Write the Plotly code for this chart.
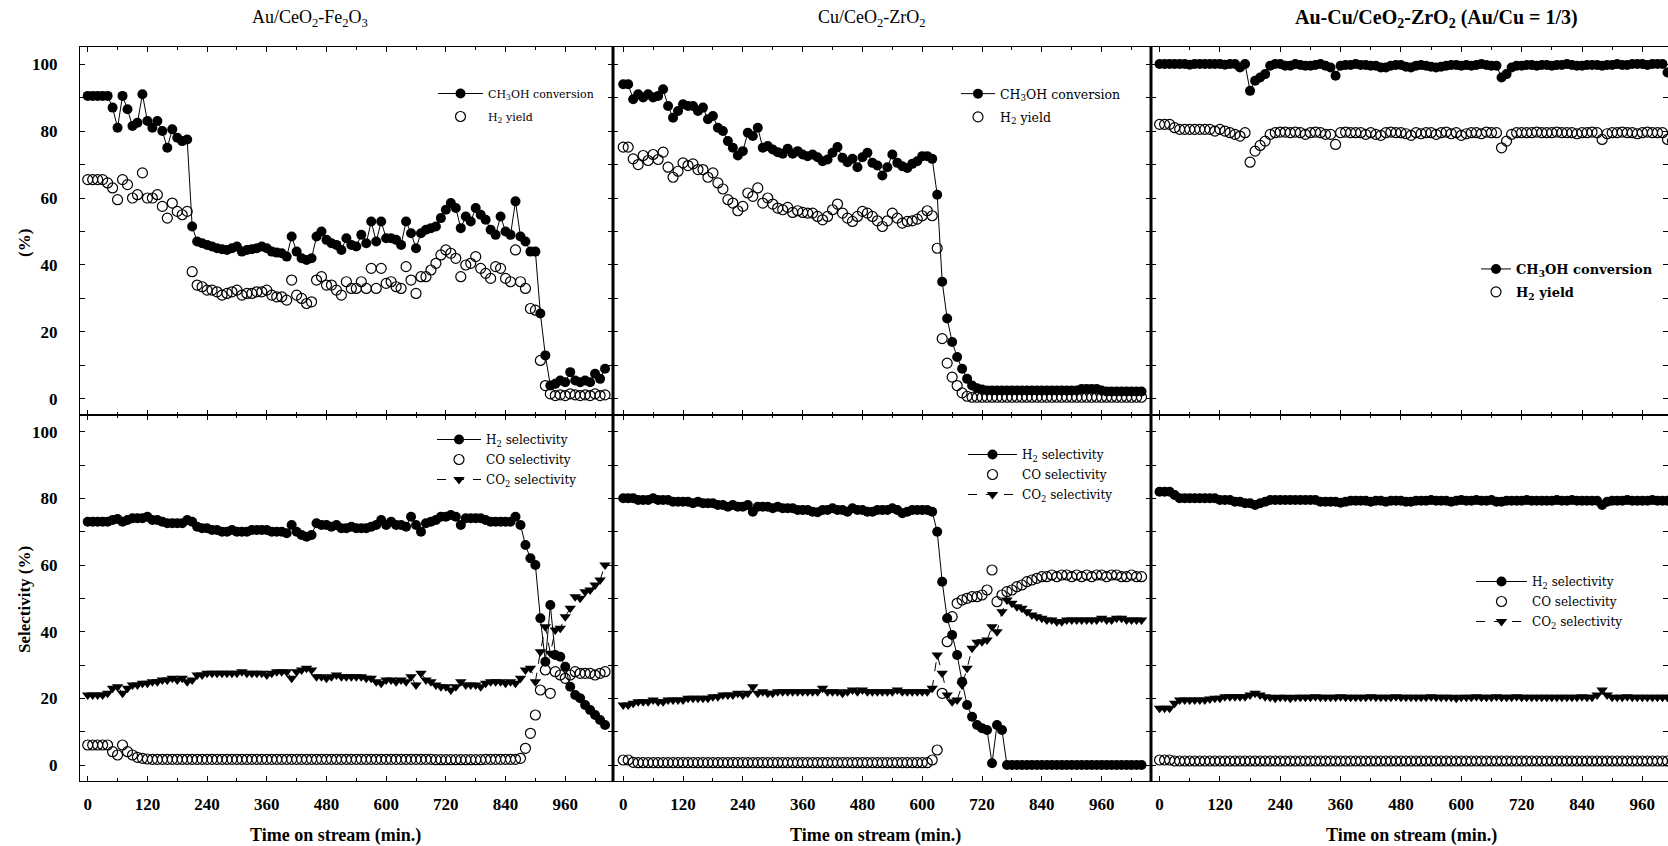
import plotly.graph_objects as go

W, H = 1668, 846

# ---------------- data ----------------
# sampling times (min)
t_p1 = list(range(0, 1041, 10))
t_p2 = list(range(0, 1041, 10))
t_p3 = list(range(0, 1021, 10))

# Panel 1: Au/CeO2-Fe2O3
p1_conv = [90.5, 90.5, 90.5, 90.5, 90.5, 87, 81, 90.5, 86.5, 81.5,
           82.5, 91, 83, 81, 83, 80, 75, 80.5, 78, 77,
           77.5, 51.5, 47, 46.5, 46, 45.5, 45, 44.7, 44.5, 45,
           45.5, 44, 44.5, 44.7, 45, 45.5, 45, 44, 43.7, 43.5,
           42.5, 48.5, 44, 42, 41.5, 42, 48.5, 50, 47.5, 46.5,
           46, 44.5, 48, 46, 45.5, 49, 46.5, 53, 47, 53,
           48, 48, 47.5, 46, 53, 49.5, 45, 49.5, 50.5, 51,
           51.5, 54, 56.5, 58.5, 57, 51, 54.5, 53, 57, 55,
           53.5, 50.5, 49, 54.5, 50, 49, 59, 48.5, 47, 44,
           44, 25.5, 13, 4, 4.5, 5.5, 5, 8, 5.5, 5,
           5.5, 5, 7.5, 6, 9]
p1_yield = [65.5, 65.5, 65.5, 65.5, 64.5, 63, 59.5, 65.5, 64, 60,
            61, 67.5, 60, 60, 61, 57.5, 54, 58.5, 56, 55,
            56, 38, 34, 33.5, 32.5, 32.5, 32, 31, 31.5, 32,
            32.5, 31, 31.5, 31.5, 32, 32, 32.5, 31, 30.5, 30.5,
            29.5, 35.5, 31, 30, 28.5, 29, 35.5, 36.5, 34, 34,
            32.5, 31, 35, 33, 33, 35, 33, 39, 33, 39,
            34.5, 35, 33.5, 33, 39.5, 35.5, 31.5, 36.5, 36.5, 38.5,
            40.5, 43, 44.5, 43.5, 42, 36.5, 40, 40.5, 42.5, 39,
            37.5, 36, 39.5, 39, 36, 35, 44.5, 35, 33, 27,
            26.5, 11.5, 4, 1.5, 1, 1.2, 1, 1.5, 1.2, 1,
            1.2, 1, 1.5, 1, 1.2]
p1_h2sel = [73, 73, 73, 73, 73, 73.5, 73.8, 73, 73.5, 74,
            74, 74, 74.5, 73.5, 73.5, 73, 72.5, 72.5, 72.5, 72.5,
            73.5, 73, 71.5, 71, 71, 70.5, 70.5, 70, 70, 70.5,
            70, 70, 70, 70.5, 70.5, 70.5, 70.5, 70, 70, 70,
            69.5, 72, 70, 69, 68.5, 69, 72.5, 72, 72, 71.5,
            72, 71, 71, 71.5, 71, 71, 71, 71.5, 72, 73.5,
            72, 73, 72, 72, 71.5, 74.5, 72, 70, 72.5, 73,
            73.5, 74.5, 74.5, 75, 74.5, 72, 74, 74, 74, 74,
            73.5, 73, 73, 73, 73, 73, 74.5, 72, 66, 62,
            60, 44, 31, 48, 33, 32.5, 29.5, 23.5, 21, 20,
            18, 16.5, 15, 13.5, 12]
p1_cosel = [6, 6, 6, 6, 6, 4, 3, 6, 4, 3,
            2.3, 2, 1.8, 1.7, 1.7, 1.7, 1.7, 1.7, 1.7, 1.7,
            1.7, 1.7, 1.7, 1.7, 1.7, 1.7, 1.7, 1.7, 1.7, 1.7,
            1.7, 1.7, 1.7, 1.7, 1.7, 1.7, 1.7, 1.7, 1.7, 1.7,
            1.7, 1.7, 1.7, 1.7, 1.7, 1.7, 1.7, 1.7, 1.7, 1.7,
            1.7, 1.7, 1.7, 1.7, 1.7, 1.7, 1.7, 1.7, 1.7, 1.7,
            1.7, 1.7, 1.7, 1.7, 1.7, 1.7, 1.7, 1.7, 1.7, 1.7,
            1.6, 1.6, 1.6, 1.6, 1.6, 1.6, 1.6, 1.6, 1.6, 1.6,
            1.7, 1.7, 1.7, 1.7, 1.7, 1.7, 1.7, 2, 5, 9.5,
            15, 22.5, 28.5, 21.5, 28, 27, 26, 27, 28, 27.5,
            27.5, 27.5, 27, 27.5, 28]
p1_co2sel = [21, 21, 21, 21, 21.5, 23, 23.5, 21.5, 23, 24,
             24, 24.5, 24.5, 25, 25, 25.5, 25.5, 26, 25.5, 26,
             25, 25.5, 27, 27, 27.5, 27.5, 27.5, 27.5, 27.5, 27.5,
             27.5, 28, 27.5, 27.5, 27.5, 27.5, 27, 27.5, 28, 28,
             28, 26, 28, 28.5, 29, 28.5, 26.5, 26.5, 26, 26.5,
             27, 26.5, 26.5, 26.5, 26.5, 26.5, 26, 26, 25, 24.5,
             25.5, 25.5, 25, 25.5, 25, 26.5, 24, 27.5, 25.5, 25,
             24, 23.5, 23.5, 22.5, 23.5, 25, 24, 24, 24, 23.5,
             24.5, 25, 25, 25, 24.5, 25, 24.5, 26, 28.5, 29,
             25, 34, 41.5, 33.5, 40.5, 41, 44.5, 47, 50.5, 50,
             52, 52.5, 54, 55.5, 60]

# Panel 2: Cu/CeO2-ZrO2
p2_conv = [94, 94, 89.5, 91, 90, 91, 90, 90.5, 92.5, 87.5,
           84, 86, 88, 87.5, 87.5, 86, 87, 83.5, 84.5, 81,
           80, 77, 75, 72.7, 74, 79.5, 78.5, 81, 75, 75.5,
           74.5, 73.7, 73.2, 74.7, 73.2, 74, 73, 72.5, 73, 72.2,
           71, 71.5, 73.5, 75.2, 72, 70.7, 71.7, 69.2, 72.2, 73.5,
           70.5, 69.7, 66.7, 69.2, 73, 70.5, 69.5, 69, 70.2, 71,
           72.5, 72.5, 71.7, 61, 35, 24, 17, 12.5, 9, 6,
           4, 3.2, 2.8, 2.5, 2.5, 2.5, 2.5, 2.5, 2.5, 2.5,
           2.5, 2.5, 2.5, 2.5, 2.5, 2.5, 2.5, 2.5, 2.5, 2.5,
           2.5, 2.5, 3, 3, 3, 3, 2.5, 2.2, 2.2, 2.2,
           2.2, 2.2, 2.2, 2.2, 2.2]
p2_yield = [75.2, 75.2, 71.7, 70, 72.7, 71.2, 73, 71.5, 73.7, 69.2,
            66.2, 68, 70.5, 69.7, 70.2, 68.5, 68.5, 66.2, 67.5, 64.5,
            62.7, 59.5, 58.5, 56.2, 57.5, 61.5, 60.5, 63, 58.5, 60,
            58.2, 57, 56.5, 57.2, 55.7, 56.2, 55.7, 55.5, 55.5, 54.5,
            53.5, 54.5, 56.5, 58.2, 55.5, 54, 53, 54.5, 56, 55.5,
            54.5, 53.2, 51.5, 53.2, 55.5, 54, 52.5, 53, 53.2, 53.7,
            54.7, 56.2, 54.7, 45, 18, 10.7, 6.5, 4, 1.8, 0.8,
            0.5, 0.5, 0.5, 0.5, 0.5, 0.5, 0.5, 0.5, 0.5, 0.5,
            0.5, 0.5, 0.5, 0.5, 0.5, 0.5, 0.5, 0.5, 0.5, 0.5,
            0.5, 0.5, 0.5, 0.5, 0.5, 0.5, 0.5, 0.5, 0.5, 0.5,
            0.5, 0.5, 0.5, 0.5, 0.5]
p2_h2sel = [80, 80, 80, 79.5, 79.5, 79.5, 80, 79.5, 79.5, 79.5,
            79, 79, 79, 79, 78.5, 79, 78.5, 78.5, 78.5, 78,
            78, 77.5, 78, 77.5, 77.5, 78, 76, 77.5, 77.5, 77.5,
            77, 77.5, 77, 77, 77, 76.5, 76.5, 76.5, 76, 75.8,
            76.5, 76.5, 77, 76.5, 76.5, 76, 77, 76.5, 76.5, 76,
            76, 76.5, 76.5, 76.5, 77, 76.5, 75.5, 76, 76.5, 76.5,
            76.5, 76.5, 76, 70, 55, 44, 39, 33, 25, 18,
            14.5, 12, 11, 10.5, 0.5, 12, 10.5, 0, 0, 0,
            0, 0, 0, 0, 0, 0, 0, 0, 0, 0,
            0, 0, 0, 0, 0, 0, 0, 0, 0, 0,
            0, 0, 0, 0, 0]
p2_cosel = [1.5, 1.5, 0.8, 0.7, 0.7, 0.7, 0.7, 0.7, 0.7, 0.7,
            0.7, 0.7, 0.7, 0.7, 0.7, 0.7, 0.7, 0.7, 0.7, 0.7,
            0.7, 0.7, 0.7, 0.7, 0.7, 0.7, 0.7, 0.7, 0.7, 0.7,
            0.7, 0.7, 0.7, 0.7, 0.7, 0.7, 0.7, 0.7, 0.7, 0.7,
            0.7, 0.7, 0.7, 0.7, 0.7, 0.7, 0.7, 0.7, 0.7, 0.7,
            0.7, 0.7, 0.7, 0.7, 0.7, 0.7, 0.7, 0.7, 0.7, 0.7,
            0.7, 0.7, 1.5, 4.5, 21.5, 37, 44.5, 48.5, 49.5, 50,
            50.5, 50.5, 51, 52.5, 58.5, 49, 51, 52, 52.5, 53.5,
            54, 55, 55.5, 56, 56.5, 56.5, 57, 56.5, 57, 57,
            56.5, 57, 56.5, 57, 56.5, 57, 57, 56.5, 57, 57,
            56.5, 56.5, 57, 56.5, 56.5]
p2_co2sel = [18, 18, 18.5, 19, 19, 19, 19.5, 19, 19, 19.5,
             19.5, 19.5, 19.5, 20, 20, 20, 20, 20, 20.5, 20.5,
             21, 21, 21, 21.5, 21, 21.5, 23.5, 21.5, 22, 21.5,
             21.5, 22, 22, 22, 22, 22, 22, 22, 22, 22,
             23, 22, 22, 22, 21.5, 22, 22.5, 22, 22.5, 22,
             22, 22, 22, 22, 22, 22.5, 22, 22, 22, 22,
             22, 22, 23, 33, 27.5, 21, 19, 19.5, 24, 29,
             35, 36.8, 37, 37.5, 41.5, 40, 46, 49.5, 48.5, 47.5,
             47, 46, 45, 44.5, 44, 43.5, 43.5, 43, 43, 43.5,
             43.5, 43.5, 43.5, 43.5, 43.5, 43.5, 44, 43.5, 43.5, 44,
             44, 43.5, 43.5, 43.5, 43.5]

# Panel 3: Au-Cu/CeO2-ZrO2 (Au/Cu = 1/3)
p3_conv = [100, 100, 100, 100, 100, 100, 99.8, 100, 100, 100,
           100, 100, 100, 99.8, 100, 100, 99, 100, 92, 95,
           96, 97, 99.5, 100, 100, 99.5, 99.5, 100, 99.7, 99.5,
           99.5, 99.7, 100, 99.5, 99, 96.5, 99.5, 99.7, 99.7, 100,
           99.7, 99.7, 99.5, 99.5, 99, 99, 99.5, 99.7, 99.7, 99.2,
           99, 99.5, 99.7, 99.5, 99.2, 99, 99.2, 99.5, 99.7, 99.7,
           99.5, 99.7, 99.5, 99.7, 100, 99.7, 99.5, 99.5, 96, 97,
           99, 99.5, 99.5, 99.7, 99.7, 99.5, 99.7, 99.7, 99.5, 99.7,
           99.7, 100, 99.7, 99.5, 99.5, 99.7, 99.7, 99.7, 99.5, 99.7,
           99.7, 100, 99.7, 99.7, 100, 100, 100, 99.7, 100, 100,
           100, 97.5, 97]
p3_yield = [82, 82, 82, 81, 80.5, 80.5, 80.5, 80.5, 80.5, 80.5,
            80.5, 80, 80.5, 80, 79.5, 79, 78.5, 79.5, 70.7, 74,
            75.7, 77, 79, 79.5, 79.7, 79.7, 79.5, 79.7, 79.5, 79,
            79.5, 79.7, 79.5, 79, 79, 76, 79.5, 79.7, 79.5, 79.5,
            79.5, 79, 79.5, 79, 78.7, 79.5, 79.7, 79.5, 79.5, 79.2,
            78.7, 79.5, 79.2, 79.5, 79.5, 79, 79.5, 79.7, 79.2, 79.5,
            78.7, 79.2, 79.5, 79.5, 79.2, 79.7, 79.5, 79.5, 75, 77,
            79, 79.5, 79.5, 79.5, 79.5, 79.7, 79.5, 79.5, 79.5, 79.7,
            79.5, 79.5, 79.5, 79.2, 79.5, 79.5, 79.7, 79.5, 77.5, 79.2,
            79.5, 79.5, 79.7, 79.5, 79.5, 79.2, 79.5, 79.7, 79.5, 79.5,
            79.5, 77.5, 77]
p3_h2sel = [82, 82, 82, 81, 80, 80, 80, 80, 80, 80,
            80, 80, 79.5, 79.5, 79.5, 79, 79, 78.5, 78.5, 78,
            78.5, 79, 79.5, 79.5, 79.5, 79.5, 79.5, 79.5, 79.5, 79.5,
            79.5, 79.5, 79, 79, 79, 79, 78.7, 79, 79.3, 79.3,
            79.3, 79.3, 79, 79.3, 79.3, 79, 79.3, 79.3, 79.3, 79,
            79, 79.3, 79.3, 79.3, 79.5, 79.3, 79.3, 79.3, 79, 79.3,
            79.5, 79.3, 79.3, 79.5, 79.3, 79.3, 79.5, 79, 79, 79.3,
            79.3, 79.3, 79.3, 79.5, 79.3, 79.3, 79.3, 79.3, 79.3, 79.5,
            79.3, 79.3, 79.5, 79.3, 79.3, 79.3, 79.3, 79.3, 78, 79,
            79.3, 79.3, 79.3, 79.5, 79.3, 79.3, 79.3, 79.3, 79.5, 79.3,
            79.3, 79.3, 79.3]
p3_cosel = [1.5, 1.5, 1.5, 1.2, 1.2, 1.2, 1.2, 1.2, 1.2, 1.2,
            1.2, 1.2, 1.2, 1.2, 1.2, 1.2, 1.2, 1.2, 1.2, 1.2,
            1.2, 1.2, 1.2, 1.2, 1.2, 1.2, 1.2, 1.2, 1.2, 1.2,
            1.2, 1.2, 1.2, 1.2, 1.2, 1.2, 1.2, 1.2, 1.2, 1.2,
            1.2, 1.2, 1.2, 1.2, 1.2, 1.2, 1.2, 1.2, 1.2, 1.2,
            1.2, 1.2, 1.2, 1.2, 1.2, 1.2, 1.2, 1.2, 1.2, 1.2,
            1.2, 1.2, 1.2, 1.2, 1.2, 1.2, 1.2, 1.2, 1.2, 1.2,
            1.2, 1.2, 1.2, 1.2, 1.2, 1.2, 1.2, 1.2, 1.2, 1.2,
            1.2, 1.2, 1.2, 1.2, 1.2, 1.2, 1.2, 1.2, 1.2, 1.2,
            1.2, 1.2, 1.2, 1.2, 1.2, 1.2, 1.2, 1.2, 1.2, 1.2,
            1.2, 1.2, 1.2]
p3_co2sel = [17, 17, 17, 18.5, 19.5, 19.5, 19.5, 19.5, 19.5, 19.5,
             19.8, 20, 20, 20.5, 20.5, 20.5, 20.5, 20.5, 21, 21.5,
             21, 20.5, 20.3, 20, 20.3, 20.3, 20, 20.3, 20.3, 20.3,
             20.3, 20.5, 20.3, 20.3, 20.3, 20.3, 20.5, 20.3, 20.3, 20.3,
             20.3, 20.3, 20.5, 20.3, 20.3, 20.3, 20.3, 20.5, 20.3, 20.3,
             20.3, 20.3, 20.3, 20.3, 20.5, 20.3, 20.3, 20.3, 20.3, 20,
             20.3, 20.3, 20.3, 20.5, 20.3, 20.3, 20.3, 20.5, 20.3, 20.3,
             20.3, 20.5, 20.3, 20.3, 20.3, 20.3, 20.3, 20.3, 20.3, 20.3,
             20.3, 20.3, 20.3, 20.3, 20.5, 20.3, 20.3, 21, 22.5, 21,
             20.3, 20.3, 20.3, 20.5, 20.3, 20.3, 20.3, 20.3, 20.3, 20.3,
             20.3, 20.3, 20.3]

panel_titles = ["Au/CeO<sub>2</sub>-Fe<sub>2</sub>O<sub>3</sub>",
                "Cu/CeO<sub>2</sub>-ZrO<sub>2</sub>",
                "<b>Au-Cu/CeO<sub>2</sub>-ZrO<sub>2</sub> (Au/Cu = 1/3)</b>"]
x_ticks = [0, 120, 240, 360, 480, 600, 720, 840, 960]
y_ticks = [0, 20, 40, 60, 80, 100]

panels = [
    (t_p1, p1_conv, p1_yield, p1_h2sel, p1_cosel, p1_co2sel),
    (t_p2, p2_conv, p2_yield, p2_h2sel, p2_cosel, p2_co2sel),
    (t_p3, p3_conv, p3_yield, p3_h2sel, p3_cosel, p3_co2sel),
]

# ---------------- geometry (pixels) ----------------
X_DOM = [(80, 613), (613, 1151), (1151, 1668)]
Y_DOM = [(47, 415), (415, 781)]
X_RNG = [[-15.5, 1056], [-20.5, 1059], [-17, 1011]]
Y_RNG = [[-4.8, 105.1], [-4.8, 105.0]]

def fx(px):
    return px / W

def fy(py):
    return 1 - py / H

SERIF = "Liberation Serif"
LEGF = "DejaVu Serif"

fig = go.Figure()

def leg_name(k):
    return "legend" if k == 1 else f"legend{k}"

MS = 10
for c, (t, conv, yld, h2s, cos, co2s) in enumerate(panels):
    top = c + 1
    bot = c + 4
    fig.add_trace(go.Scatter(
        x=t, y=conv, mode="lines+markers", name="CH<sub>3</sub>OH conversion",
        line=dict(color="black", width=1),
        marker=dict(symbol="circle", size=MS, color="black"),
        xaxis=f"x{top}", yaxis=f"y{top}", legend=leg_name(top), legendgroup=f"a{top}"))
    fig.add_trace(go.Scatter(
        x=t, y=yld, mode="markers", name="H<sub>2</sub> yield",
        marker=dict(symbol="circle-open", size=MS, color="black", line=dict(width=1.2)),
        xaxis=f"x{top}", yaxis=f"y{top}", legend=leg_name(top), legendgroup=f"b{top}"))
    fig.add_trace(go.Scatter(
        x=t, y=h2s, mode="lines+markers", name="H<sub>2</sub> selectivity",
        line=dict(color="black", width=1),
        marker=dict(symbol="circle", size=MS, color="black"),
        xaxis=f"x{bot}", yaxis=f"y{bot}", legend=leg_name(bot), legendgroup=f"a{bot}"))
    fig.add_trace(go.Scatter(
        x=t, y=cos, mode="markers", name="CO selectivity",
        marker=dict(symbol="circle-open", size=MS, color="black", line=dict(width=1.2)),
        xaxis=f"x{bot}", yaxis=f"y{bot}", legend=leg_name(bot), legendgroup=f"b{bot}"))
    fig.add_trace(go.Scatter(
        x=t, y=co2s, mode="lines+markers", name="CO<sub>2</sub> selectivity",
        line=dict(color="black", width=1, dash="dash"),
        marker=dict(symbol="triangle-down", size=MS, color="black"),
        xaxis=f"x{bot}", yaxis=f"y{bot}", legend=leg_name(bot), legendgroup=f"c{bot}"))

layout = dict(
    width=W, height=H,
    margin=dict(l=0, r=0, t=0, b=0),
    paper_bgcolor="white", plot_bgcolor="white",
    showlegend=True,
)

tickfont = dict(family=SERIF, size=17, color="black", weight="bold")
for r in range(2):
    for c in range(3):
        i = r * 3 + c + 1
        xa = dict(
            domain=[fx(X_DOM[c][0]), fx(X_DOM[c][1])],
            range=X_RNG[c], anchor=f"y{i}",
            showline=True, linecolor="black", linewidth=1.3, mirror="ticks",
            ticks="inside", ticklen=5, tickwidth=1, tickcolor="black",
            tickmode="array", tickvals=x_ticks,
            minor=dict(tickvals=[60, 180, 300, 420, 540, 660, 780, 900, 1020],
                       ticks="inside", ticklen=3, tickcolor="black"),
            showgrid=False, zeroline=False,
            showticklabels=(r == 1), tickfont=tickfont,
            ticklabelstandoff=7,
        )
        ya = dict(
            domain=[fy(Y_DOM[r][1]), fy(Y_DOM[r][0])],
            range=Y_RNG[r], anchor=f"x{i}",
            showline=True, linecolor="black", linewidth=1.3, mirror="ticks",
            ticks="inside", ticklen=5, tickwidth=1, tickcolor="black",
            tickmode="array", tickvals=y_ticks,
            minor=dict(tickvals=[10, 30, 50, 70, 90],
                       ticks="inside", ticklen=5, tickcolor="black"),
            showgrid=False, zeroline=False,
            showticklabels=(c == 0), tickfont=tickfont,
            ticklabelstandoff=18,
        )
        layout["xaxis" if i == 1 else f"xaxis{i}"] = xa
        layout["yaxis" if i == 1 else f"yaxis{i}"] = ya

# legends: (left px, top px, group gap, font size, weight, item width)
LEG_POS = {1: (433, 79, 4, 11, "normal", 45),
           2: (956, 79, 4, 12.5, "normal", 34),
           3: (1476, 254, 3, 13, "bold", 30),
           4: (432, 425, 1, 12, "normal", 44),
           5: (963, 440, 1, 12, "normal", 49),
           6: (1471, 567, 1, 12, "normal", 51)}
for k, (lx, ly, gap, fs, fw, iw) in LEG_POS.items():
    layout[leg_name(k)] = dict(
        x=fx(lx), y=fy(ly), xanchor="left", yanchor="top",
        xref="paper", yref="paper",
        bgcolor="rgba(0,0,0,0)", borderwidth=0,
        font=dict(family=LEGF, size=fs, color="black", weight=fw),
        traceorder="grouped", tracegroupgap=gap,
        itemwidth=iw,
    )

fig.update_layout(**layout)

# thick separators between the panels
for xs in (613, 1151):
    fig.add_shape(type="line", xref="paper", yref="paper",
                  x0=fx(xs), x1=fx(xs), y0=fy(781), y1=fy(47),
                  line=dict(color="black", width=3))

# column titles
title_x = [310, 872, 1436]
title_size = [18, 18, 20]
for c in range(3):
    fig.add_annotation(text=panel_titles[c], x=fx(title_x[c]), y=fy(18),
                       xref="paper", yref="paper", showarrow=False,
                       xanchor="center", yanchor="middle",
                       font=dict(family=SERIF, size=title_size[c], color="black"))

# y-axis titles
fig.add_annotation(text="<b>(%)</b>", x=fx(24), y=fy(243), xref="paper", yref="paper",
                   showarrow=False, textangle=-90, xanchor="center", yanchor="middle",
                   font=dict(family=SERIF, size=17, color="black"))
fig.add_annotation(text="<b>Selectivity (%)</b>", x=fx(24), y=fy(600), xref="paper", yref="paper",
                   showarrow=False, textangle=-90, xanchor="center", yanchor="middle",
                   font=dict(family=SERIF, size=17, color="black"))

# x-axis titles
xt_x = [335, 876, 1411]
for c in range(3):
    fig.add_annotation(text="<b>Time on stream (min.)</b>", x=fx(xt_x[c]), y=fy(835),
                       xref="paper", yref="paper", showarrow=False,
                       xanchor="center", yanchor="middle",
                       font=dict(family=SERIF, size=18, color="black"))

fig.write_html("out.html")
